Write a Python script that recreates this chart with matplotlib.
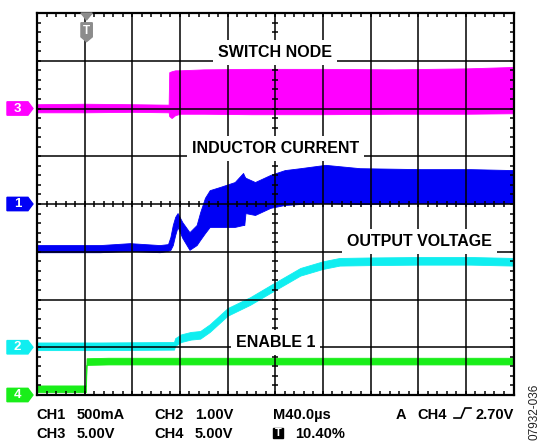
import numpy as np
import matplotlib.pyplot as plt
from matplotlib.lines import Line2D
from matplotlib.patches import Rectangle

plt.rcParams['font.family'] = ['Liberation Sans', 'DejaVu Sans']

W, H = 542, 442
US_PER_DIV = 40.0          # M40.0us
N_XDIV, N_YDIV = 10, 8

# ---- traces, read in screen divisions (0 = bottom of screen) ----
# CH3 switch node: upper / lower envelope of the switching band
sw_t  = [0, 40, 80, 110.5, 111, 113, 116, 120, 140, 180, 240, 300, 360, 400]
sw_hi = [6.09, 6.10, 6.09, 6.08, 6.76, 6.78, 6.80, 6.80, 6.82, 6.83, 6.83, 6.82, 6.84, 6.87]
sw_lo = [5.92, 5.92, 5.93, 5.92, 5.84, 5.80, 5.86, 5.89, 5.89, 5.88, 5.88, 5.89, 5.89, 5.90]

# CH1 inductor current envelope
cur_t  = [0, 53, 78, 103, 110, 112, 114, 116, 118, 122, 128, 134, 137, 141, 145,
          154, 166, 173, 174, 175, 183, 196, 208, 221, 242, 271, 322, 364, 400]
cur_hi = [3.14, 3.14, 3.18, 3.14, 3.16, 3.31, 3.56, 3.73, 3.81, 3.62, 3.41, 3.56, 3.83, 4.13, 4.29,
          4.36, 4.46, 4.65, 4.59, 4.55, 4.46, 4.61, 4.71, 4.75, 4.82, 4.75, 4.73, 4.73, 4.71]
cur_lo = [2.99, 2.99, 3.02, 2.99, 3.02, 3.04, 3.14, 3.35, 3.52, 3.29, 3.04, 3.14, 3.25, 3.39, 3.52,
          3.52, 3.52, 3.56, 3.56, 3.81, 3.77, 3.92, 3.98, 4.00, 4.02, 4.00, 4.02, 4.00, 4.02]

# CH2 output voltage (trace centre)
vout_t = [0, 53, 115, 116, 121, 129, 137, 145, 160, 179, 196, 212, 221, 240, 254, 279, 322, 364, 400]
vout   = [1.02, 1.02, 1.03, 1.11, 1.19, 1.24, 1.26, 1.40, 1.74, 1.97, 2.22, 2.45, 2.58, 2.72,
          2.79, 2.80, 2.81, 2.81, 2.79]
vout_w = 0.08

# CH4 enable (trace centre)
en_t = [0, 41.0, 41.6, 60, 200, 400]
en_v = [0.13, 0.13, 0.70, 0.71, 0.71, 0.71]
en_w = 0.07

# channel ground markers: label, level (div), colour
markers = [('3', 6.0, '#ff00ff'), ('1', 4.0, '#0000f5'),
           ('2', 1.0, '#10eef0'), ('4', 0.0, '#19ee19')]

# waveform labels: text, centre time (us), baseline (div)
labels = [('SWITCH NODE', 200, 7.08), ('INDUCTOR CURRENT', 200, 5.07),
          ('OUTPUT VOLTAGE', 321, 3.12), ('ENABLE 1', 200, 1.01)]

trig_t = 41.6   # 10.40 %

fig = plt.figure(figsize=(W / 100, H / 100), dpi=100)
ax = fig.add_axes([37 / W, (H - 395) / H, 476.5 / W, 382 / H])
ax.set_xlim(0, N_XDIV * US_PER_DIV)
ax.set_ylim(0, N_YDIV)

# traces
ax.fill_between(sw_t, sw_lo, sw_hi, color='#ff00ff', lw=0.6, zorder=1)
ax.fill_between(cur_t, cur_lo, cur_hi, color='#0000f5', lw=0.6, zorder=1)
v = np.array(vout)
ax.fill_between(vout_t, v - vout_w, v + vout_w, color='#10eef0', lw=0.6, zorder=1)
e = np.array(en_v)
ax.fill_between(en_t, e - en_w, e + en_w, color='#19ee19', lw=0.6, zorder=1)

# graticule
for i in range(1, N_XDIV):
    ax.axvline(i * US_PER_DIV, color='k', lw=1.1, zorder=3)
for j in range(1, N_YDIV):
    ax.axhline(j, color='k', lw=1.1, zorder=3)
for s in ax.spines.values():
    s.set_linewidth(1.6)
    s.set_zorder(4)
ax.set_xticks(np.arange(0, 400.1, 8))
ax.set_yticks(np.arange(0, 8.01, 0.2))
ax.tick_params(direction='in', length=3.2, width=1.1, top=True, right=True,
               labelbottom=False, labelleft=False)
xt = np.arange(0, 400.1, 8)
ax.plot(xt, np.full(len(xt), 4.0), ls='none', marker='|', ms=4, mew=1.1, color='k', zorder=3)
yt = np.arange(0, 8.01, 0.2)
ax.plot(np.full(len(yt), 200.0), yt, ls='none', marker='_', ms=4, mew=1.1, color='k', zorder=3)

for txt, x, y in labels:
    ax.text(x, y, txt, ha='center', va='baseline', fontsize=11.5, fontweight='bold',
            bbox=dict(boxstyle='square,pad=0.3', fc='white', ec='none'), zorder=5)

# channel markers on the left edge
for num, lvl, col in markers:
    px = [-25.2, -7.6, -3.4, -7.6, -25.2]
    py = [lvl + 0.14, lvl + 0.14, lvl, lvl - 0.14, lvl - 0.14]
    ax.fill(px, py, color=col, clip_on=False, zorder=6)
    ax.text(-16.5, lvl, num, color='white', fontsize=9.5, fontweight='bold',
            ha='center', va='center', clip_on=False, zorder=7)

# trigger position marker
ax.fill([36.9, 46.4, trig_t], [8.0, 8.0, 7.853], color='#8c8c8c', clip_on=False, zorder=6)
ax.fill([36.9, 46.4, 46.4, trig_t, 36.9], [7.795, 7.795, 7.50, 7.40, 7.50],
        color='#8c8c8c', clip_on=False, zorder=6)
ax.text(trig_t, 7.63, 'T', color='white', fontsize=8.5, fontweight='bold',
        ha='center', va='center', zorder=7)


def ftext(x, y, s, **kw):
    fig.text(x / W, 1 - y / H, s, fontsize=10.5, fontweight='bold', va='baseline', **kw)


ftext(36, 419, 'CH1')
ftext(77, 419, '500mA')
ftext(154, 419, 'CH2')
ftext(195, 419, '1.00V')
ftext(273, 419, 'M40.0µs')
ftext(396, 419, 'A')
ftext(417, 419, 'CH4')
ftext(475, 419, '2.70V')
ftext(36, 438, 'CH3')
ftext(77, 438, '5.00V')
ftext(154, 438, 'CH4')
ftext(195, 438, '5.00V')
ftext(295, 438, '10.40%')

# rising-edge trigger symbol
edge = [(454, 418), (461, 418), (465, 408), (471, 408)]
fig.add_artist(Line2D([p[0] / W for p in edge], [1 - p[1] / H for p in edge],
                      color='k', lw=1.2, transform=fig.transFigure))
fig.add_artist(Rectangle((273 / W, 1 - 438 / H), 10 / W, 10 / H, color='k',
                         transform=fig.transFigure))
fig.text(278 / W, 1 - 433 / H, 'T', color='white', fontsize=8, fontweight='bold',
         ha='center', va='center')

fig.text(535 / W, 1 - 440 / H, '07932-036', rotation=90, fontsize=8.5, color='#222222',
         ha='center', va='bottom')

fig.savefig('out.png', dpi=100)
